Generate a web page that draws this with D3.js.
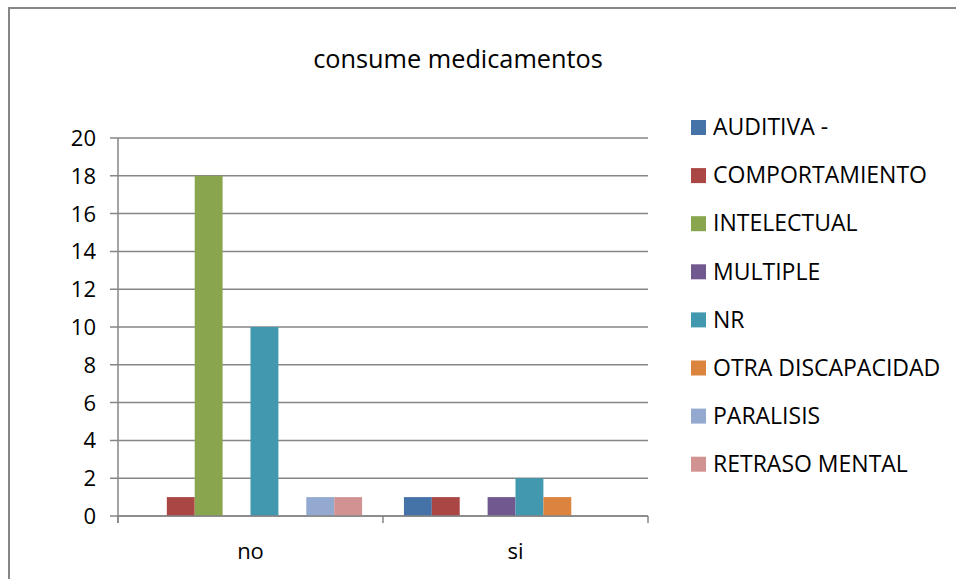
<!DOCTYPE html>
<html>
<head>
<meta charset="utf-8">
<script src="https://cdn.jsdelivr.net/npm/d3@7"></script>
<style>
  body { margin: 0; background: #fff; }
  svg text { font-family: "Open Sans", "Noto Sans", sans-serif; fill: #000; }
</style>
</head>
<body>
<div id="chart-container"></div>
<script>
// Data
const categories = ["no", "si"];
const seriesNames = ["AUDITIVA -", "COMPORTAMIENTO", "INTELECTUAL", "MULTIPLE", "NR", "OTRA DISCAPACIDAD", "PARALISIS", "RETRASO MENTAL"];
const valuesNo = [0, 1, 18, 0, 10, 0, 1, 1];
const valuesSi = [1, 1, 0, 1, 2, 1, 0, 0];
const yTicks = [0, 2, 4, 6, 8, 10, 12, 14, 16, 18, 20];
const colors = ["#4572a7", "#aa4643", "#89a54e", "#71588f", "#4198af", "#db843d", "#93a9cf", "#d19392"];

const W = 956, H = 579;
const plot = { left: 118, right: 648, top: 138, bottom: 516 };

const svg = d3.select("#chart-container")
    .append("svg")
    .attr("width", W)
    .attr("height", H);

// Chart border
svg.append("rect")
    .attr("x", 9).attr("y", 8)
    .attr("width", W + 20).attr("height", H + 20)
    .attr("fill", "none")
    .attr("stroke", "#868686")
    .attr("stroke-width", 2);

// Title
svg.append("text")
    .attr("x", 458).attr("y", 68)
    .attr("text-anchor", "middle")
    .style("font-size", "25.3px")
    .text("consume medicamentos");

// Scales
const x0 = d3.scaleBand()
    .domain(categories)
    .range([plot.left, plot.right]);

const groupPad = 0.75 / 9.5;
const x1 = d3.scaleBand()
    .domain(seriesNames)
    .range([x0.bandwidth() * groupPad, x0.bandwidth() * (1 - groupPad)]);

const y = d3.scaleLinear()
    .domain([0, 20])
    .range([plot.bottom, plot.top]);

// Gridlines
svg.append("g")
    .selectAll("line")
    .data(yTicks)
    .join("line")
    .attr("x1", plot.left - 8)
    .attr("x2", plot.right)
    .attr("y1", d => y(d))
    .attr("y2", d => y(d))
    .attr("stroke", "#868686")
    .attr("stroke-width", 1.5);

// Y axis line + labels
svg.append("line")
    .attr("x1", plot.left).attr("x2", plot.left)
    .attr("y1", plot.top).attr("y2", plot.bottom + 7)
    .attr("stroke", "#868686").attr("stroke-width", 1.5);

svg.append("g")
    .selectAll("text")
    .data(yTicks)
    .join("text")
    .attr("x", 96)
    .attr("y", d => y(d))
    .attr("dy", "0.36em")
    .attr("text-anchor", "end")
    .style("font-size", "22px")
    .text(d => d);

// Bars
const groups = svg.append("g")
    .selectAll("g")
    .data(categories.map((c, i) => ({ cat: c, vals: i === 0 ? valuesNo : valuesSi })))
    .join("g")
    .attr("transform", d => `translate(${x0(d.cat)},0)`);

groups.selectAll("rect")
    .data(d => d.vals.map((v, i) => ({ name: seriesNames[i], value: v, color: colors[i] })))
    .join("rect")
    .attr("x", d => x1(d.name))
    .attr("y", d => y(d.value))
    .attr("width", x1.bandwidth())
    .attr("height", d => y(0) - y(d.value))
    .attr("fill", d => d.color);

// X axis line + ticks
svg.append("line")
    .attr("x1", plot.left).attr("x2", plot.right)
    .attr("y1", plot.bottom).attr("y2", plot.bottom)
    .attr("stroke", "#868686").attr("stroke-width", 1.5);

const boundaries = [plot.left, x0("si"), plot.right];
svg.append("g")
    .selectAll("line")
    .data(boundaries)
    .join("line")
    .attr("x1", d => d).attr("x2", d => d)
    .attr("y1", plot.bottom).attr("y2", plot.bottom + 7)
    .attr("stroke", "#868686").attr("stroke-width", 1.5);

svg.append("g")
    .selectAll("text")
    .data(categories)
    .join("text")
    .attr("x", d => x0(d) + x0.bandwidth() / 2)
    .attr("y", 559)
    .attr("text-anchor", "middle")
    .style("font-size", "22px")
    .text(d => d);

// Legend
const legend = svg.append("g")
    .selectAll("g")
    .data(seriesNames)
    .join("g")
    .attr("transform", (d, i) => `translate(691,${127 + i * 48.1})`);

legend.append("rect")
    .attr("x", 0).attr("y", -7)
    .attr("width", 15).attr("height", 15)
    .attr("fill", (d, i) => colors[i]);

legend.append("text")
    .attr("x", 22)
    .attr("dy", "0.36em")
    .style("font-size", "23px")
    .text(d => d);
</script>
</body>
</html>
